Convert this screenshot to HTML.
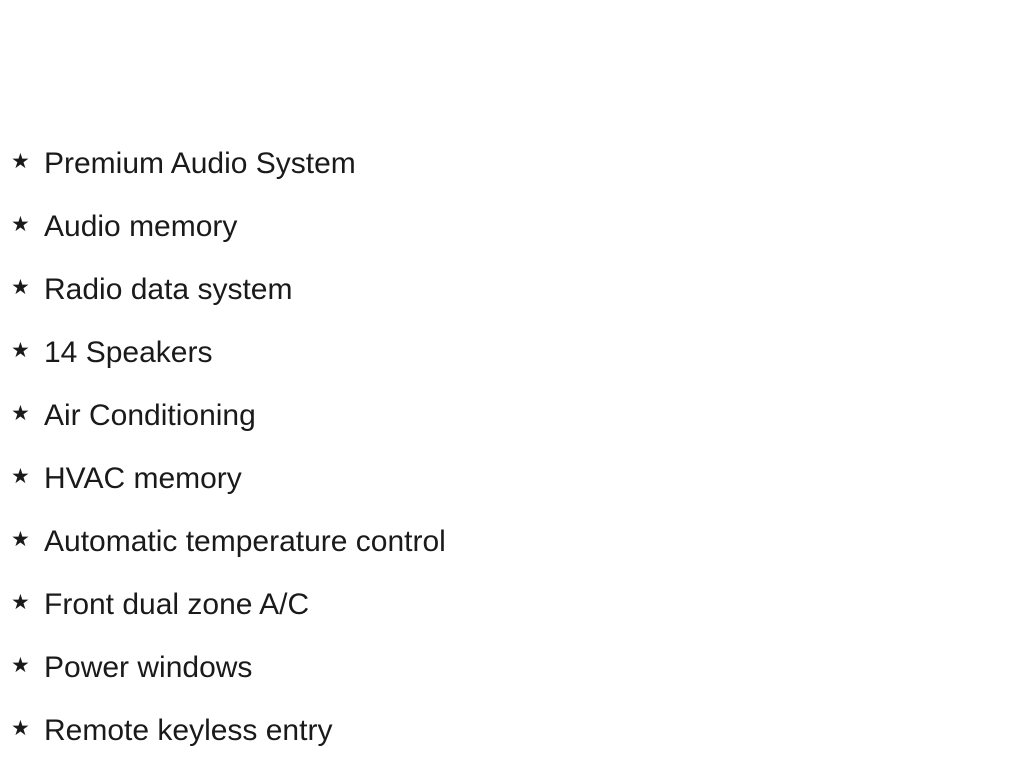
<!DOCTYPE html>
<html><head><style>
html,body{margin:0;padding:0;background:#fff;width:1024px;height:768px;overflow:hidden}
.r{position:absolute;left:0;height:40px;font-family:"Liberation Sans",sans-serif;color:#1a1a1a}
.s{position:absolute;left:11px;top:5px;font-size:21px;font-family:"DejaVu Sans",sans-serif}
.t{position:absolute;left:44px;top:0;font-size:30px;line-height:40px;white-space:nowrap}
</style></head><body>
<div class="r" style="top:144px"><span class="s">★</span><span class="t">Premium Audio System</span></div>
<div class="r" style="top:207px"><span class="s">★</span><span class="t">Audio memory</span></div>
<div class="r" style="top:270px"><span class="s">★</span><span class="t">Radio data system</span></div>
<div class="r" style="top:333px"><span class="s">★</span><span class="t">14 Speakers</span></div>
<div class="r" style="top:396px"><span class="s">★</span><span class="t">Air Conditioning</span></div>
<div class="r" style="top:459px"><span class="s">★</span><span class="t">HVAC memory</span></div>
<div class="r" style="top:522px"><span class="s">★</span><span class="t">Automatic temperature control</span></div>
<div class="r" style="top:585px"><span class="s">★</span><span class="t">Front dual zone A/C</span></div>
<div class="r" style="top:648px"><span class="s">★</span><span class="t">Power windows</span></div>
<div class="r" style="top:711px"><span class="s">★</span><span class="t">Remote keyless entry</span></div>
</body></html>
